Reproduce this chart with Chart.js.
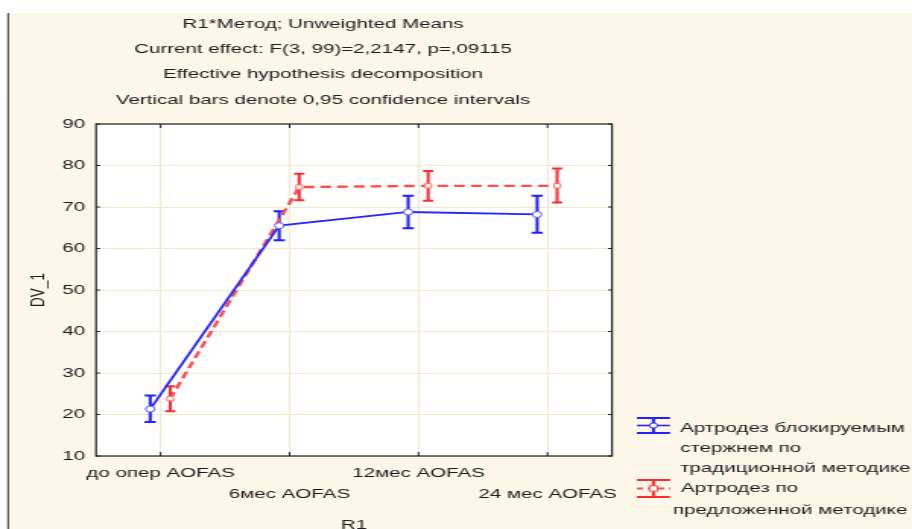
<!DOCTYPE html>
<html>
<head>
<meta charset="utf-8">
<script src="https://cdn.jsdelivr.net/npm/chart.js@4.4.1/dist/chart.umd.min.js"></script>
<style>
  html, body { margin: 0; padding: 0; background: #ffffff; overflow: hidden; }
  /* the drawing is laid out on a 600px canvas and widened to the page width */
  #wrap { position: absolute; left: 0; top: 0; width: 600px; height: 529px;
          transform: scaleX(1.52); transform-origin: 0 0; }
  canvas { display: block; }
</style>
</head>
<body>
<div id="wrap"><canvas id="c" width="600" height="529"></canvas></div>
<script>
// ---- data ----
const CATEGORIES = ['до опер AOFAS', '6мес AOFAS', '12мес AOFAS', '24 мес AOFAS'];

// Артродез блокируемым стержнем по традиционной методике
const TRAD_MEAN = [21.3, 65.5, 68.8, 68.2];
const TRAD_LOW  = [18.2, 62.0, 64.9, 63.8];
const TRAD_HIGH = [24.6, 69.0, 72.7, 72.7];

// Артродез по предложенной методике
const PROP_MEAN = [23.8, 74.8, 75.1, 75.1];
const PROP_LOW  = [20.8, 71.6, 71.5, 71.1];
const PROP_HIGH = [26.8, 78.0, 78.7, 79.3];

const Y_MIN = 10, Y_MAX = 90, Y_STEP = 10;

const TITLE_LINES = [
  'R1*Метод; Unweighted Means',
  'Current effect: F(3, 99)=2,2147, p=,09115',
  'Effective hypothesis decomposition',
  'Vertical bars denote 0,95 confidence intervals'
];
const SERIES_NAMES = [
  ['Артродез блокируемым', 'стержнем по', 'традиционной методике'],
  ['Артродез по', 'предложенной методике']
];
const X_TITLE = 'R1';
const Y_TITLE = 'DV_1';

// ---- styling ----
const FONT = "'Liberation Sans', Arial, sans-serif";
const FONT_SIZE = 13.5;
const TEXT_COLOR = '#1c1c1c';
const PANEL_BG = '#fdf7ea';
const GRID_COLOR = '#f2e9cc';
const BLUE = '#2626ff';
const BLUE_BAR = '#1f1fff';
const RED = '#ff4d4d';
const RED_BAR = '#ff2a2a';
const SHIFT_TRAD = -0.08;   // side-by-side placement within a category
const SHIFT_PROP = 0.075;

const toPoints = (means, shift) => means.map((v, i) => ({ x: i + shift, y: v }));

const INTERVALS = [
  { low: TRAD_LOW, high: TRAD_HIGH, color: BLUE_BAR, cap: 3.7 },
  { low: PROP_LOW, high: PROP_HIGH, color: RED_BAR, cap: 3.4 }
];

// page background, left rule and white plot field
const backdrop = {
  id: 'backdrop',
  beforeDraw(chart) {
    const { ctx, width, height, chartArea: a } = chart;
    ctx.save();
    ctx.fillStyle = '#ffffff';
    ctx.fillRect(0, 0, width, height);
    ctx.fillStyle = PANEL_BG;
    ctx.fillRect(5.3, 13, width, height);
    ctx.strokeStyle = '#2a2a2a';
    ctx.lineWidth = 1;
    ctx.beginPath();
    ctx.moveTo(5.3, 13);
    ctx.lineTo(5.3, height);
    ctx.stroke();
    ctx.fillStyle = '#ffffff';
    ctx.fillRect(a.left, a.top, a.right - a.left, a.bottom - a.top);
    ctx.restore();
  }
};

// confidence-interval whiskers, under the lines and markers
const whiskers = {
  id: 'whiskers',
  beforeDatasetsDraw(chart) {
    const { ctx, scales: { x, y } } = chart;
    ctx.save();
    ctx.lineWidth = 2;
    chart.data.datasets.forEach((ds, d) => {
      const iv = INTERVALS[d];
      ctx.strokeStyle = iv.color;
      ds.data.forEach((p, i) => {
        const px = x.getPixelForValue(p.x);
        const yl = y.getPixelForValue(iv.low[i]);
        const yh = y.getPixelForValue(iv.high[i]);
        ctx.beginPath();
        ctx.moveTo(px, yl); ctx.lineTo(px, yh);
        ctx.moveTo(px - iv.cap, yl); ctx.lineTo(px + iv.cap, yl);
        ctx.moveTo(px - iv.cap, yh); ctx.lineTo(px + iv.cap, yh);
        ctx.stroke();
      });
    });
    ctx.restore();
  }
};

// plot frame with short inward tick marks on all four sides
const frame = {
  id: 'frame',
  afterDraw(chart) {
    const { ctx, chartArea: a, scales: { x, y } } = chart;
    ctx.save();
    ctx.strokeStyle = '#1e1e1e';
    ctx.lineWidth = 1.2;
    ctx.strokeRect(a.left, a.top, a.right - a.left, a.bottom - a.top);
    ctx.lineWidth = 1;
    ctx.beginPath();
    y.ticks.forEach(t => {
      const py = y.getPixelForValue(t.value);
      ctx.moveTo(a.left, py); ctx.lineTo(a.left + 2.6, py);
      ctx.moveTo(a.right, py); ctx.lineTo(a.right - 2.6, py);
    });
    x.ticks.forEach(t => {
      const px = x.getPixelForValue(t.value);
      ctx.moveTo(px, a.bottom); ctx.lineTo(px, a.bottom - 4);
      ctx.moveTo(px, a.top); ctx.lineTo(px, a.top + 4);
    });
    ctx.stroke();
    ctx.restore();
  }
};

// heading lines above the plot
const heading = {
  id: 'heading',
  afterDraw(chart) {
    const { ctx } = chart;
    ctx.save();
    ctx.font = FONT_SIZE + 'px ' + FONT;
    ctx.fillStyle = TEXT_COLOR;
    ctx.textAlign = 'center';
    ctx.textBaseline = 'middle';
    TITLE_LINES.forEach((t, i) => ctx.fillText(t, 212.5, 24 + 25.3 * i));
    ctx.restore();
  }
};

// series key at the lower right
const key = {
  id: 'key',
  afterDraw(chart) {
    const { ctx } = chart;
    const x0 = 419, x1 = 440.8, xm = (x0 + x1) / 2;
    ctx.save();
    // blue entry symbol
    ctx.strokeStyle = BLUE_BAR;
    ctx.lineWidth = 2;
    ctx.beginPath();
    ctx.moveTo(x0, 418); ctx.lineTo(x1, 418);
    ctx.moveTo(x0, 433); ctx.lineTo(x1, 433);
    ctx.moveTo(xm, 418); ctx.lineTo(xm, 433);
    ctx.stroke();
    ctx.strokeStyle = BLUE; ctx.lineWidth = 1.6;
    ctx.beginPath(); ctx.moveTo(x0, 425.5); ctx.lineTo(x1, 425.5); ctx.stroke();
    ctx.fillStyle = '#ffffff'; ctx.strokeStyle = BLUE; ctx.lineWidth = 1;
    ctx.beginPath(); ctx.arc(xm, 425.5, 2.6, 0, Math.PI * 2); ctx.fill(); ctx.stroke();
    // red entry symbol
    ctx.strokeStyle = RED_BAR; ctx.lineWidth = 2;
    ctx.beginPath();
    ctx.moveTo(x0, 480); ctx.lineTo(x1, 480);
    ctx.moveTo(x0, 497); ctx.lineTo(x1, 497);
    ctx.moveTo(xm, 480); ctx.lineTo(xm, 497);
    ctx.stroke();
    ctx.strokeStyle = RED; ctx.lineWidth = 2; ctx.setLineDash([4, 3]);
    ctx.beginPath(); ctx.moveTo(x0, 488.5); ctx.lineTo(x1, 488.5); ctx.stroke();
    ctx.setLineDash([]);
    ctx.fillStyle = '#ffffff'; ctx.strokeStyle = RED; ctx.lineWidth = 1;
    ctx.fillRect(xm - 2.6, 485.9, 5.2, 5.2); ctx.strokeRect(xm - 2.6, 485.9, 5.2, 5.2);
    // labels
    ctx.font = FONT_SIZE + 'px ' + FONT;
    ctx.fillStyle = TEXT_COLOR;
    ctx.textAlign = 'left';
    ctx.textBaseline = 'middle';
    ctx.fillText(SERIES_NAMES[0][0], 447.4, 428);
    ctx.fillText(SERIES_NAMES[0][1], 447.4, 448);
    ctx.fillText(SERIES_NAMES[0][2], 447.4, 468);
    ctx.fillText(SERIES_NAMES[1][0], 448, 488);
    ctx.fillText(SERIES_NAMES[1][1], 442.8, 510);
    ctx.restore();
  }
};

new Chart(document.getElementById('c'), {
  type: 'line',
  data: {
    datasets: [
      {
        label: SERIES_NAMES[0].join(' '),
        data: toPoints(TRAD_MEAN, SHIFT_TRAD),
        borderColor: BLUE,
        borderWidth: 1.8,
        pointStyle: 'circle',
        pointRadius: 3,
        pointBackgroundColor: '#ffffff',
        pointBorderColor: '#5a5aff',
        pointBorderWidth: 1,
        tension: 0
      },
      {
        label: SERIES_NAMES[1].join(' '),
        data: toPoints(PROP_MEAN, SHIFT_PROP),
        borderColor: RED,
        borderWidth: 2.4,
        borderDash: [7, 4],
        pointStyle: 'rect',
        pointRadius: 3,
        pointBackgroundColor: '#ffffff',
        pointBorderColor: '#ff7070',
        pointBorderWidth: 1,
        tension: 0
      }
    ]
  },
  options: {
    responsive: false,
    animation: false,
    devicePixelRatio: 1,
    layout: { padding: { top: 124, right: 197.4, left: 0, bottom: 0 } },
    plugins: { legend: { display: false }, title: { display: false }, tooltip: { enabled: false } },
    scales: {
      x: {
        type: 'linear',
        min: -0.5,
        max: CATEGORIES.length - 0.5,
        afterBuildTicks: s => { s.ticks = CATEGORIES.map((_, i) => ({ value: i })); },
        afterFit: s => { s.height = 73; },
        grid: { color: GRID_COLOR, borderDash: [1, 3], drawTicks: false },
        border: { display: false },
        ticks: {
          autoSkip: false,
          maxRotation: 0,
          padding: 7.25,
          color: TEXT_COLOR,
          font: { family: FONT, size: FONT_SIZE, lineHeight: 1.52 },
          callback: v => {
            const i = Math.round(v);
            return i % 2 === 0 ? CATEGORIES[i] : ['', CATEGORIES[i]];
          }
        },
        title: {
          display: true,
          text: X_TITLE,
          color: TEXT_COLOR,
          font: { family: FONT, size: FONT_SIZE, lineHeight: 0.6 },
          padding: 0
        }
      },
      y: {
        min: Y_MIN,
        max: Y_MAX,
        afterFit: s => { s.width = 63.2; },
        grid: { color: GRID_COLOR, borderDash: [1, 3], drawTicks: false },
        border: { display: false },
        ticks: {
          stepSize: Y_STEP,
          padding: 7.3,
          color: TEXT_COLOR,
          font: { family: FONT, size: FONT_SIZE }
        },
        title: {
          display: true,
          text: Y_TITLE,
          color: TEXT_COLOR,
          font: { family: FONT, size: FONT_SIZE },
          padding: { top: 16.9, bottom: 0 }
        }
      }
    }
  },
  plugins: [backdrop, whiskers, frame, heading, key]
});
</script>
</body>
</html>
